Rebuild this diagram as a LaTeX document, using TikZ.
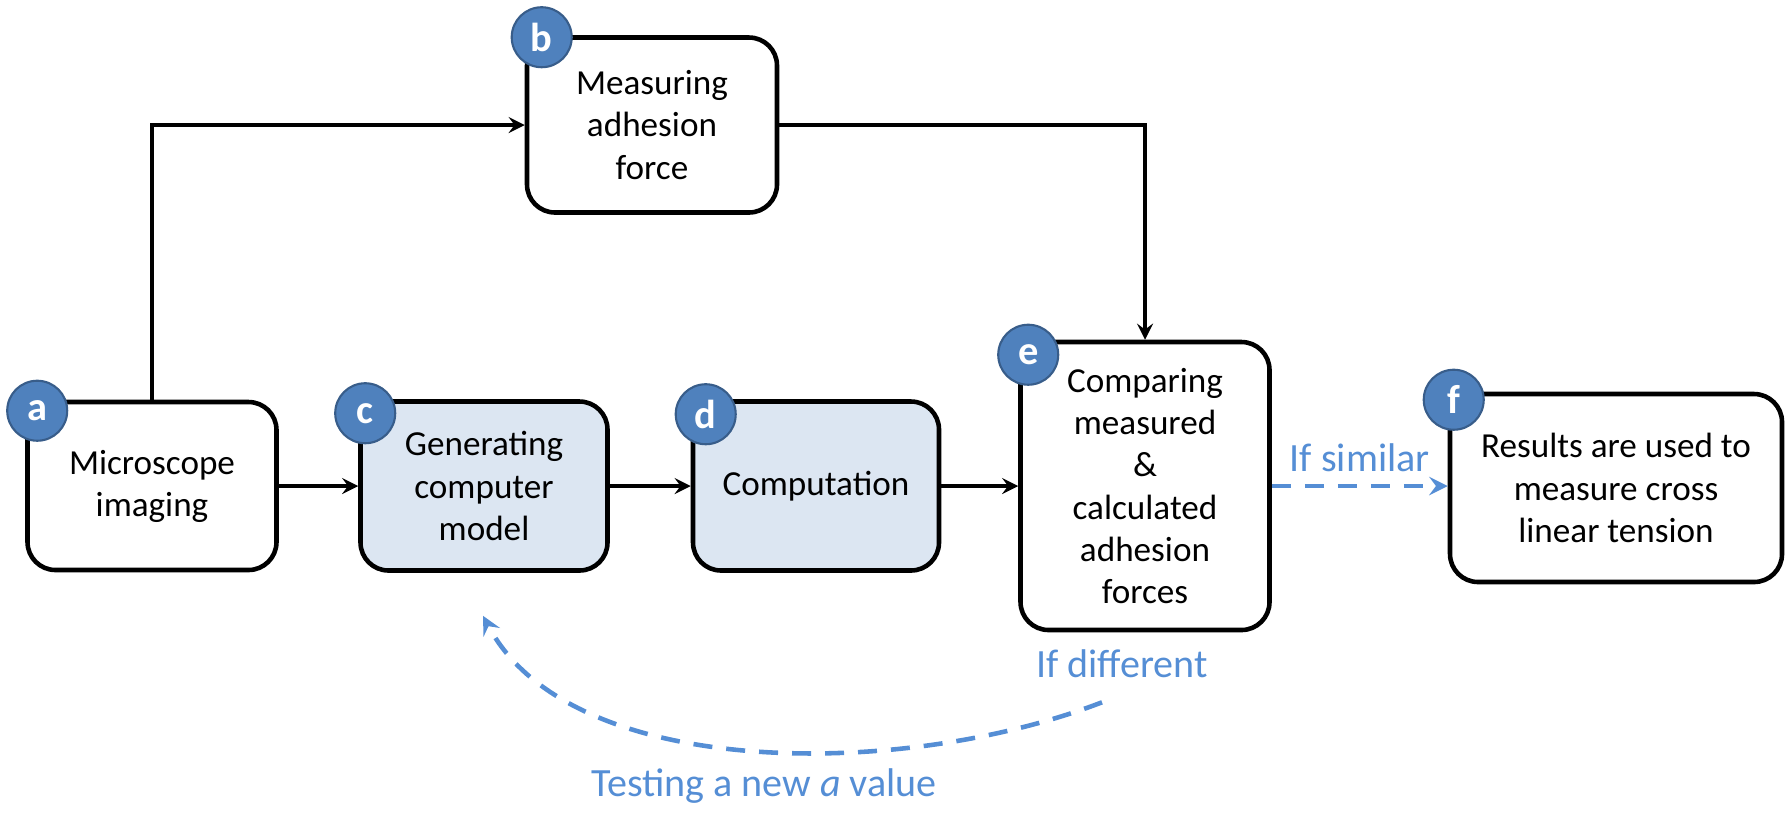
\documentclass[tikz,border=0pt]{standalone}
\usepackage{fontspec}
\setmainfont{Carlito}
\usetikzlibrary{positioning,arrows}
\definecolor{tagBlue}{RGB}{79,129,189}
\definecolor{tagEdge}{RGB}{56,93,138}
\definecolor{loopBlue}{RGB}{85,142,213}
\definecolor{modelFill}{RGB}{220,230,242}
\tikzset{
  stage/.style={rectangle, rounded corners=2.8mm, fill=white, draw, line width=1.3pt, align=center, inner sep=0pt},
  simStage/.style={stage, fill=modelFill},
  tag/.style={circle, fill=tagBlue, draw=tagEdge, line width=0.6pt, minimum size=6mm, inner sep=0pt, text=white, font=\bfseries\fontsize{11.5pt}{11.5pt}\selectfont},
  applyOp/.style={-stealth, line width=1pt},
  loopOp/.style={-stealth, draw=loopBlue, line width=1.3pt, dash pattern=on 1.9mm off 1.4mm},
  loopText/.style={text=loopBlue, font=\fontsize{11.4pt}{13pt}\selectfont}
}

\begin{document}
\begin{tikzpicture}[x=0.1mm, y=-0.1mm, font=\fontsize{10pt}{12pt}\selectfont]
  \useasboundingbox (0,0) rectangle (1786,812);
  \node [stage, minimum width=24.9mm, minimum height=16.8mm] (a) at (152,486) {Microscope\\imaging};
  \node [stage, minimum width=25mm, minimum height=17.5mm] (b) at (652,125) {Measuring\\adhesion\\force};
  \node [simStage, minimum width=24.7mm, minimum height=16.9mm] (c) at (484,486) {Generating\\computer\\model};
  \node [simStage, minimum width=24.6mm, minimum height=16.9mm] (d) at (816,486) {Computation};
  \node [stage, minimum width=24.9mm, minimum height=28.8mm] (e) at (1145,486) {Comparing\\measured\\\&\\calculated\\adhesion\\forces};
  \node [stage, minimum width=33.2mm, minimum height=18.8mm] (f) at (1616,488) {Results are used to\\measure cross\\linear tension};
  \node [tag] (ta) at ([shift={(12,11)}]a.north west) {a};
  \node [tag] (tb) at ([shift={(17,2)}]b.north west) {b};
  \node [tag] (tc) at ([shift={(7,14)}]c.north west) {c};
  \node [tag] (td) at ([shift={(15,15)}]d.north west) {d};
  \node [tag] (te) at ([shift={(10,15)}]e.north west) {e};
  \node [tag] (tf) at ([shift={(6,8)}]f.north west) {f};
  \draw [applyOp] (a) -- (c);
  \draw [applyOp] (c) -- (d);
  \draw [applyOp] (d) -- (e);
  \draw [applyOp] (a.north) |- (b);
  \draw [applyOp] (b) -| (e);
  \draw [loopOp] (e.east) -- (e.east -| f.west) node [midway, above, loopText] (similar) {If similar};
  \coordinate (backStart) at ([shift={(-43,70)}]e.south);
  \coordinate (backEnd) at ([shift={(-1,43)}]c.south);
  \draw [loopOp] (backStart) .. controls (900,780) and (570,780) .. (backEnd);
  \node [loopText] (different) at (1122,664) {If different};
  \node [loopText] (retry) at (764,786) {Testing a new \textit{a} value};
\end{tikzpicture}
\end{document}
